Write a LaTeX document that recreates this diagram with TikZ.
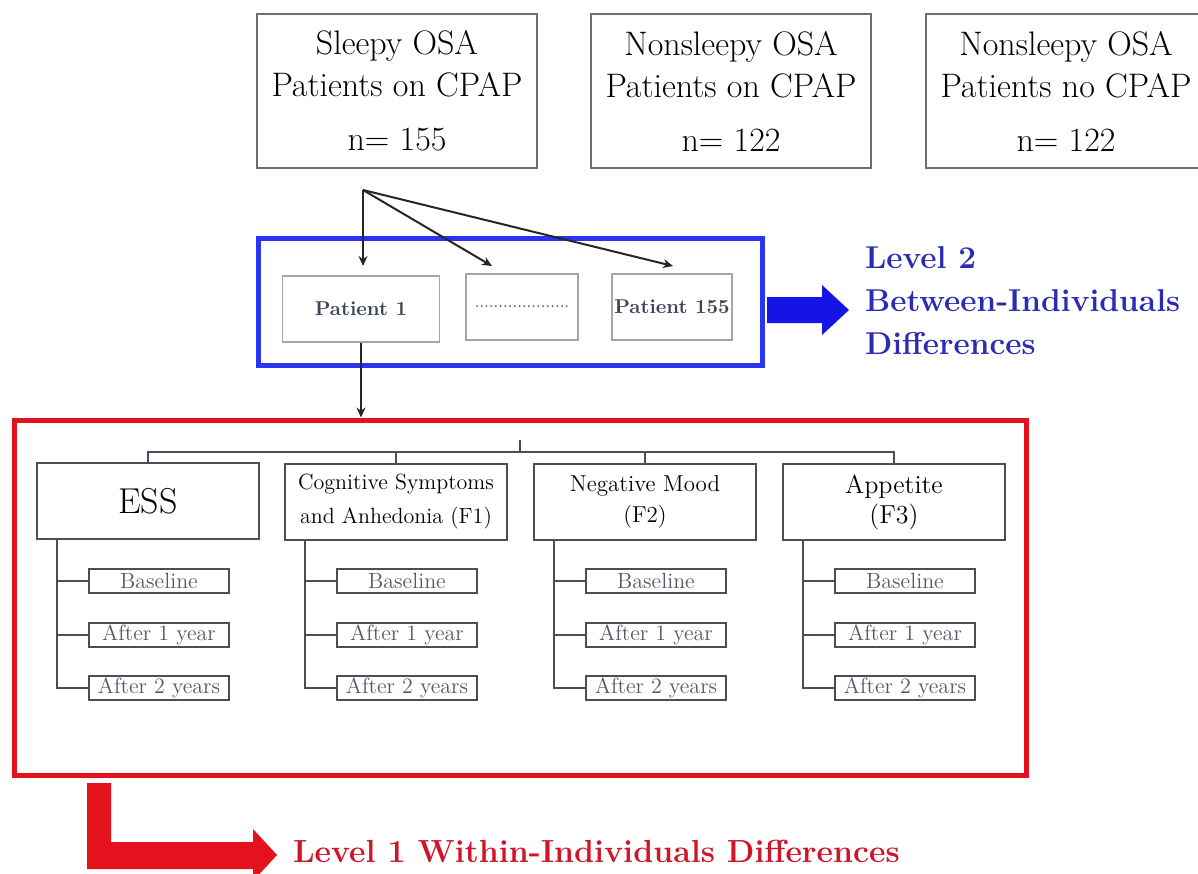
\documentclass[tikz,border=0pt]{standalone}
\usetikzlibrary{positioning,arrows.meta}

\definecolor{frameblue}{HTML}{2A34F2}
\definecolor{arrowblue}{HTML}{1414E6}
\definecolor{textblue}{HTML}{2B2BB5}
\definecolor{framered}{HTML}{E3121C}
\definecolor{textred}{HTML}{D0142A}
\definecolor{boxgray}{HTML}{6E6E6E}
\definecolor{patgray}{HTML}{A5A5A5}
\definecolor{pattext}{HTML}{3E4558}
\definecolor{treegray}{HTML}{4A4E58}
\definecolor{subtext}{HTML}{545868}

\tikzset{
  groupbox/.style={draw=boxgray, line width=0.8pt, minimum width=140pt, minimum height=77pt,
    align=center, inner sep=0pt, font=\fontsize{17}{21}\selectfont},
  patbox/.style={draw=patgray, line width=0.6pt, minimum height=33pt, inner sep=0pt,
    text=pattext, font=\fontsize{10}{12}\selectfont\bfseries},
  catbox/.style={draw=treegray, line width=0.9pt, minimum width=111pt, minimum height=38pt,
    align=center, inner sep=0pt, font=\fontsize{11}{16}\selectfont},
  subbox/.style={draw=treegray, line width=0.9pt, minimum width=70pt, minimum height=12pt,
    inner sep=0pt, text=subtext, font=\fontsize{11}{12}\selectfont},
  tree/.style={treegray, line width=1pt},
  fan/.style={black!85, line width=1pt, -{Stealth[length=5pt,width=4.5pt]}},
}

\begin{document}
\begin{tikzpicture}[x=0.5pt, y=-0.5pt]
\useasboundingbox (0,0) rectangle (1198,873);

% the three groups
\node[groupbox] (sleepy) at (397,91) {Sleepy OSA\\Patients on CPAP\\[6pt]n= 155};
\node[groupbox] (nscpap) at (731,91) {Nonsleepy OSA\\Patients on CPAP\\[6pt]n= 122};
\node[groupbox] (nsnone) at (1066,91) {Nonsleepy OSA\\Patients no CPAP\\[6pt]n= 122};

% level 2
\node[draw=frameblue, line width=2.5pt, minimum width=252pt, minimum height=63.5pt] (between) at (510,301.5) {};
\node[patbox, minimum width=78.5pt] (pat1) at (361,309) {Patient 1};
\node[patbox, minimum width=56pt] (patdots) at (522,307) {\fontsize{8}{8}\selectfont\mdseries ....................};
\node[patbox, minimum width=60pt] (patlast) at (672,307) {Patient 155};

\coordinate (fanfrom) at (363,190);
\coordinate (to1) at (363,266);
\coordinate (todots) at (492,266);
\coordinate (tolast) at (673,266);
\draw[fan] (fanfrom) -- (to1);
\draw[fan] (fanfrom) -- (todots);
\draw[fan] (fanfrom) -- (tolast);

\fill[arrowblue] (767,297) -- (822,297) -- (822,285) -- (849,310) -- (822,335) -- (822,323) -- (767,323) -- cycle;
\node[anchor=west, align=left, text=textblue, font=\fontsize{15.8}{21.5}\selectfont\bfseries] (lvltwo) at (858,301)
  {Level 2\\Between-Individuals\\Differences};

% level 1
\node[draw=framered, line width=2.5pt, minimum width=506pt, minimum height=177.5pt] (within) at (520,597.5) {};
\draw[fan] (pat1.south) -- (pat1.south |- within.north);

\node[catbox, font=\fontsize{18}{20}\selectfont] (ess) at (148,501) {ESS};
\node[catbox, font=\fontsize{11}{17}\selectfont] (cog) at (396,502) {Cognitive Symptoms\\and Anhedonia (F1)};
\node[catbox, font=\fontsize{11.5}{15.5}\selectfont] (mood) at (645,502) {Negative Mood\\(F2)};
\node[catbox, font=\fontsize{13}{15}\selectfont] (app) at (894,502) {Appetite\\(F3)};

\coordinate (bar) at (0,452);
\coordinate (tick) at (520,440);
\draw[tree] (ess.north) -- (ess.north |- bar) -| (app.north);
\draw[tree] (cog.north) -- (cog.north |- bar);
\draw[tree] (mood.north) -- (mood.north |- bar);
\draw[tree] (tick) -- (tick |- bar);

\coordinate (rowbase) at (0,581);
\coordinate (rowone) at (0,635);
\coordinate (rowtwo) at (0,688);
\foreach \c in {ess,cog,mood,app}{
  \coordinate (\c-stem) at ([xshift=10.5pt]\c.south west);
  \coordinate (\c-left) at ([xshift=26pt]\c.south west);
  \node[subbox, anchor=west] (\c-base) at (\c-left |- rowbase) {Baseline};
  \node[subbox, anchor=west] (\c-one) at (\c-left |- rowone) {After 1 year};
  \node[subbox, anchor=west] (\c-two) at (\c-left |- rowtwo) {After 2 years};
  \draw[tree] (\c-stem) |- (\c-two.west);
  \draw[tree] (\c-stem |- \c-base.west) -- (\c-base.west);
  \draw[tree] (\c-stem |- \c-one.west) -- (\c-one.west);
}

\fill[framered] (87,783) -- (111,783) -- (111,842) -- (253,842) -- (253,829) -- (277,855)
  -- (253,881) -- (253,869) -- (87,869) -- cycle;
\node[anchor=west, text=textred, font=\fontsize{16}{20}\selectfont\bfseries] (lvlone) at (286,851)
  {Level 1 Within-Individuals Differences};
\end{tikzpicture}
\end{document}
